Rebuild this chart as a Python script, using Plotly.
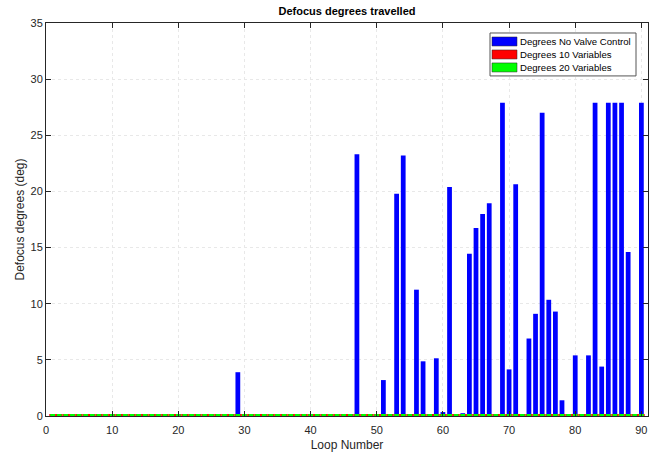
import plotly.graph_objects as go

loops = list(range(1, 91))
# Degrees travelled with no valve control, loops 1..90
no_valve = [0.0] * 90
_vals = {29: 3.9, 47: 23.3, 51: 3.2, 53: 19.8, 54: 23.2, 56: 11.25, 57: 4.87, 59: 5.14,
         60: 0.35, 61: 20.4, 62: 0.15, 63: 0.25, 64: 14.45, 65: 16.75, 66: 18.0, 67: 18.95,
         69: 27.9, 70: 4.15, 71: 20.65, 73: 6.9, 74: 9.1, 75: 27.0, 76: 10.35, 77: 9.3,
         78: 1.4, 80: 5.4, 81: 0.1, 82: 5.4, 83: 27.9, 84: 4.4, 85: 27.9, 86: 27.9,
         87: 27.9, 88: 14.6, 90: 27.9}
for k, v in _vals.items():
    no_valve[k - 1] = v
ten_vars = [0.15] * 90
twenty_vars = [0.15] * 90

series_names = ["Degrees No Valve Control", "Degrees 10 Variables", "Degrees 20 Variables"]
series_colors = ["#0000ff", "#ff0000", "#00ff00"]
x_ticks = [0, 10, 20, 30, 40, 50, 60, 70, 80, 90]
y_ticks = [0, 5, 10, 15, 20, 25, 30, 35]

font = "Liberation Sans, Arial, Helvetica, sans-serif"
axcol = "#262626"

W, H = 661, 454
L, R, T, B = 46, 13, 23, 37.5
pw, ph = W - L - R, H - T - B
fx = lambda px: (px - L) / pw
fy = lambda py: (H - B - py) / ph

fig = go.Figure()
fig.add_trace(go.Bar(x=loops, y=no_valve, name=series_names[0], marker=dict(color=series_colors[0], line=dict(width=0)), width=0.72))
fig.add_trace(go.Bar(x=loops, y=ten_vars, name=series_names[1], marker=dict(color=series_colors[1], line=dict(width=0)), width=1.0))
fig.add_trace(go.Bar(x=loops, y=twenty_vars, name=series_names[2], marker=dict(color=series_colors[2], line=dict(width=0)), width=0.72))

# legend box drawn like MATLAB's
shapes = [dict(type="rect", xref="paper", yref="paper", x0=fx(490), x1=fx(636), y0=fy(76), y1=fy(33),
               fillcolor="white", line=dict(color="#555555", width=1), layer="above")]
annotations = []
rows = [(37, 46), (50, 59), (63, 72)]
for (ya, yb), name, col in zip(rows, series_names, series_colors):
    shapes.append(dict(type="rect", xref="paper", yref="paper", x0=fx(492), x1=fx(517), y0=fy(yb), y1=fy(ya),
                       fillcolor=col, line=dict(color="#262626", width=0.5), layer="above"))
    annotations.append(dict(xref="paper", yref="paper", x=fx(518), y=fy((ya + yb) / 2), text=name,
                            showarrow=False, xanchor="left", yanchor="middle",
                            font=dict(size=9.6, color="black", family=font)))

fig.update_layout(
    barmode="overlay",
    width=W, height=H,
    margin=dict(l=L, r=R, t=T, b=B),
    paper_bgcolor="white", plot_bgcolor="white",
    font=dict(family=font, size=11, color=axcol),
    title=dict(text="<b>Defocus degrees travelled</b>", x=0.525, xanchor="center", y=0.975, yanchor="middle",
               font=dict(size=11, color="black")),
    showlegend=False,
    shapes=shapes,
    annotations=annotations,
)
fig.update_xaxes(range=[0, 91], tickvals=x_ticks, showgrid=True, gridcolor="#e8e8e8", griddash="dot",
                 gridwidth=1, zeroline=False, showline=True, linecolor=axcol, linewidth=1, mirror="ticks",
                 ticks="inside", ticklen=5, tickcolor=axcol, automargin=False, ticklabelstandoff=4,
                 title=dict(text="Loop Number", font=dict(size=12, color=axcol), standoff=5))
fig.update_yaxes(range=[0, 35], tickvals=y_ticks, showgrid=True, gridcolor="#e8e8e8", griddash="dot",
                 gridwidth=1, zeroline=False, showline=True, linecolor=axcol, linewidth=1, mirror="ticks",
                 ticks="inside", ticklen=5, tickcolor=axcol, automargin=False,
                 title=dict(text="Defocus degrees (deg)", font=dict(size=12, color=axcol), standoff=3))

fig.write_html("out.html")
